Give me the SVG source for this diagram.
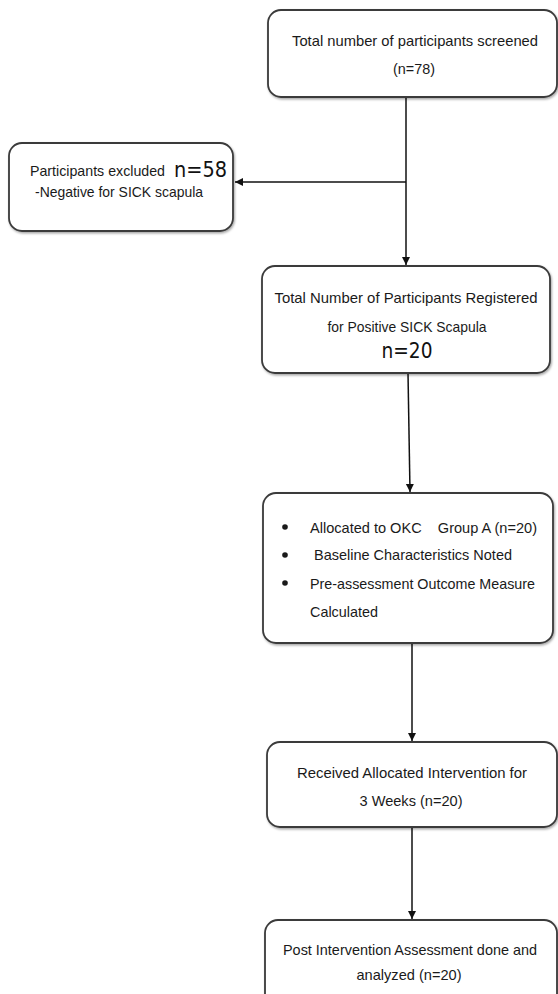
<svg xmlns="http://www.w3.org/2000/svg" width="558" height="994" viewBox="0 0 558 994">
<style>
.box{fill:#fff;stroke:#3a3a3a;stroke-width:1.8}
.t{font-family:"Liberation Sans",Arial,sans-serif;font-size:15px;fill:#1a1a1a;text-anchor:middle}
.tl{font-family:"Liberation Sans",Arial,sans-serif;font-size:15px;fill:#1a1a1a;white-space:pre}
.big{font-family:"DejaVu Sans","Liberation Sans",sans-serif;font-size:21px;fill:#111}
.line{stroke:#111;stroke-width:1.5;fill:none}
</style>
<defs>
<marker id="ah" viewBox="0 0 10 10" refX="10" refY="5" markerWidth="8" markerHeight="9" markerUnits="userSpaceOnUse" orient="auto">
<path d="M0,0 L10,5 L0,10 z" fill="#111"/>
</marker>
<filter id="sh" x="-5%" y="-5%" width="110%" height="115%">
<feDropShadow dx="1" dy="1.5" stdDeviation="0.8" flood-color="#000" flood-opacity="0.35"/>
</filter>
</defs>
<rect width="558" height="994" fill="#fff"/>
<g id="connectors">
<line class="line" x1="406" y1="97" x2="406" y2="265" marker-end="url(#ah)"/>
<line class="line" x1="406" y1="182" x2="235" y2="182" marker-end="url(#ah)"/>
<line class="line" x1="408" y1="373" x2="410" y2="492" marker-end="url(#ah)"/>
<line class="line" x1="412" y1="643" x2="412" y2="741" marker-end="url(#ah)"/>
<line class="line" x1="412" y1="827" x2="412" y2="919" marker-end="url(#ah)"/>
</g>
<g id="n1">
<rect class="box" filter="url(#sh)" x="268" y="10" width="289" height="87" rx="13"/>
<text class="t" x="415" y="46" textLength="246" lengthAdjust="spacingAndGlyphs">Total number of participants screened</text>
<text class="t" x="414" y="74" textLength="42" lengthAdjust="spacingAndGlyphs">(n=78)</text>
</g>
<g id="n2">
<rect class="box" filter="url(#sh)" x="9" y="143" width="224" height="88" rx="13"/>
<text class="tl" x="30" y="176" textLength="135" lengthAdjust="spacingAndGlyphs">Participants excluded</text>
<text class="big" x="174" y="177" textLength="53" lengthAdjust="spacingAndGlyphs">n=58</text>
<text class="tl" x="35" y="197" textLength="168" lengthAdjust="spacingAndGlyphs">-Negative for SICK scapula</text>
</g>
<g id="n3">
<rect class="box" filter="url(#sh)" x="262" y="266" width="288" height="107" rx="13"/>
<text class="t" x="406" y="303" textLength="263" lengthAdjust="spacingAndGlyphs">Total Number of Participants Registered</text>
<text class="t" x="407" y="332" textLength="159" lengthAdjust="spacingAndGlyphs">for Positive SICK Scapula</text>
<text class="big" x="407" y="358" text-anchor="middle" textLength="51" lengthAdjust="spacingAndGlyphs">n=20</text>
</g>
<g id="n4">
<rect class="box" filter="url(#sh)" x="263" y="493" width="290" height="150" rx="13"/>
<circle cx="285" cy="527" r="2.8" fill="#1a1a1a"/>
<circle cx="285" cy="555" r="2.8" fill="#1a1a1a"/>
<circle cx="285" cy="583" r="2.8" fill="#1a1a1a"/>
<text class="tl" x="310" y="533" textLength="227" lengthAdjust="spacingAndGlyphs">Allocated to OKC    Group A (n=20)</text>
<text class="tl" x="314" y="560" textLength="198" lengthAdjust="spacingAndGlyphs">Baseline Characteristics Noted</text>
<text class="tl" x="310" y="589" textLength="225" lengthAdjust="spacingAndGlyphs">Pre-assessment Outcome Measure</text>
<text class="tl" x="310" y="617" textLength="68" lengthAdjust="spacingAndGlyphs">Calculated</text>
</g>
<g id="n5">
<rect class="box" filter="url(#sh)" x="267" y="742" width="290" height="85" rx="13"/>
<text class="t" x="412" y="778" textLength="230" lengthAdjust="spacingAndGlyphs">Received Allocated Intervention for</text>
<text class="t" x="411" y="806" textLength="103" lengthAdjust="spacingAndGlyphs">3 Weeks (n=20)</text>
</g>
<g id="n6">
<rect class="box" filter="url(#sh)" x="265" y="920" width="292" height="100" rx="13"/>
<text class="t" x="410" y="955" textLength="254" lengthAdjust="spacingAndGlyphs">Post Intervention Assessment done and</text>
<text class="t" x="409" y="980" textLength="105" lengthAdjust="spacingAndGlyphs">analyzed (n=20)</text>
</g>
</svg>
